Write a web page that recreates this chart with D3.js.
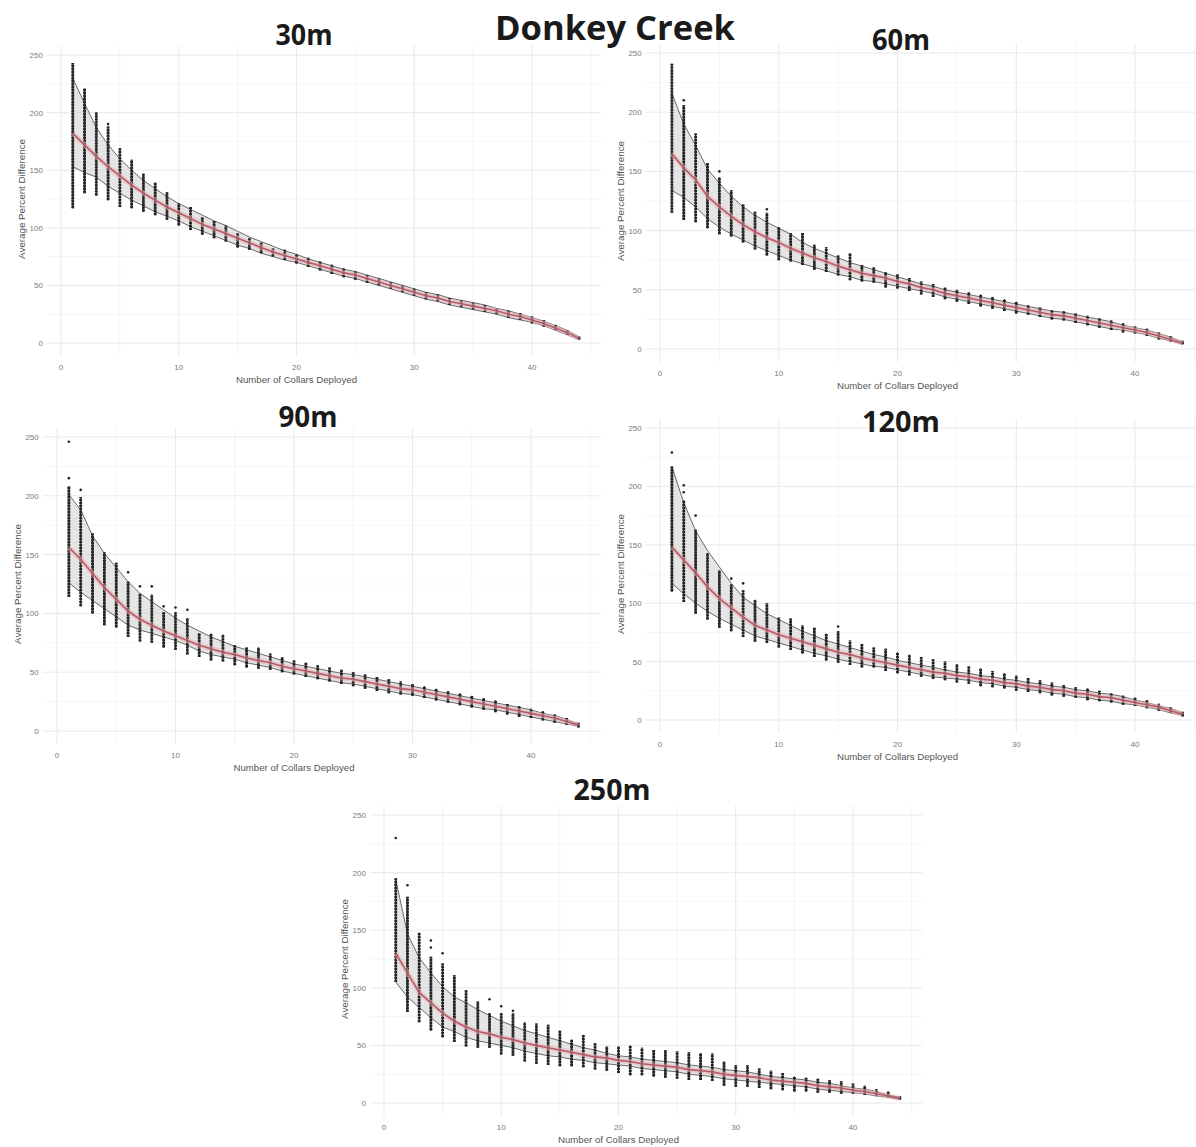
<!DOCTYPE html>
<html>
<head>
<meta charset="utf-8">
<title>Donkey Creek</title>
<script src="https://cdn.jsdelivr.net/npm/d3@7"></script>
<style>
  html, body { margin: 0; padding: 0; background: #fff; }
  svg { display: block; }
  .tick-label { font-family: "Liberation Sans", Arial, sans-serif; font-size: 8px; fill: #7a7a7a; }
  .axis-title { font-family: "Liberation Sans", Arial, sans-serif; font-size: 8.5px; fill: #555; }
  .panel-title { font-family: "Open Sans", "Noto Sans", sans-serif; font-weight: 700; fill: #1a1a1a; }
</style>
</head>
<body>
<svg id="chart" width="1196" height="1147"></svg>
<script>
// Number of collars deployed (x categories)
const collars = [1,2,3,4,5,6,7,8,9,10,11,12,13,14,15,16,17,18,19,20,21,22,
                 23,24,25,26,27,28,29,30,31,32,33,34,35,36,37,38,39,40,41,42,43,44];
const xTicks = [0, 10, 20, 30, 40];
const yTicks = [0, 50, 100, 150, 200, 250];

// 30 m
const mean30   = [182,172,162,153,145,137,130,124,118,113,108,103,99,95,91,87,83,79,76,73,70,67,64,61,59,56,53,50,47,44,41,39,36,34,32,30,28,25,23,20,17,13,9,4];
const barHi30  = [243,221,200,188,169,159,147,139,131,121,118,109,106,102,95,91,87,82,81,77,74,71,68,65,62,59,56,53,50,47,44,42,39,37,35,33,30,28,26,23,20,16,11,6];
const barLo30  = [117,130,128,124,118,117,114,111,107,102,98,94,91,88,83,81,78,75,72,69,66,63,60,57,55,52,50,47,44,41,38,36,33,31,29,27,25,22,20,17,14,11,7,3];
const ribHi30  = [230,208,187,172,160,150,141,134,127,121,116,111,106,102,97,92,88,84,80,77,73,70,67,64,62,59,56,53,50,47,44,42,39,37,35,33,30,28,25,22,19,15,11,5];
const ribLo30  = [153,148,144,136,130,124,119,114,110,106,101,97,93,89,85,82,78,75,72,70,67,64,61,58,56,53,50,47,44,41,38,36,33,31,29,27,25,22,20,18,15,11,7,3];
const out30    = [[4,190]];

// 60 m
const mean60   = [165,153,143,129,120,112,105,99,94,90,85,81,77,74,70,67,64,62,60,57,55,52,50,47,45,43,41,39,37,35,33,31,29,28,26,24,22,20,18,16,14,11,8,5];
const barHi60  = [241,206,182,157,145,134,122,116,115,103,98,98,88,86,79,81,71,69,65,63,60,57,55,52,50,48,46,44,42,40,37,35,33,32,30,28,26,24,22,19,17,14,11,7];
const barLo60  = [115,109,107,102,97,95,90,84,79,75,74,71,67,65,62,58,57,56,52,51,49,46,44,42,40,38,36,34,32,30,29,27,25,24,22,20,18,16,14,13,11,8,6,4];
const ribHi60  = [216,190,172,152,140,129,120,113,107,102,97,90,85,81,77,73,70,67,64,61,58,55,53,50,48,46,44,42,40,38,36,34,32,31,29,27,25,23,20,18,16,13,10,6];
const ribLo60  = [134,128,120,110,103,97,92,87,83,79,75,72,69,66,63,61,58,57,55,53,51,49,47,44,42,40,38,36,34,32,30,28,26,25,23,21,19,17,16,14,12,9,7,4];
const out60    = [[2,210],[5,150],[9,118]];

// 90 m
const mean90   = [156,146,134,122,112,102,95,90,85,81,77,73,70,67,65,62,60,58,55,53,51,49,47,45,44,42,40,38,36,35,33,31,29,27,25,23,21,19,17,15,13,11,8,5];
const barHi90  = [208,199,168,152,143,127,117,116,101,101,96,83,83,82,73,71,71,66,63,60,58,56,54,52,50,48,46,44,42,40,38,36,34,32,30,28,26,23,21,19,17,14,11,7];
const barLo90  = [114,106,100,90,88,80,76,75,71,69,65,63,60,59,56,54,53,52,50,48,46,44,42,40,38,36,34,32,31,30,28,26,24,22,20,18,16,14,12,11,9,7,5,3];
const ribHi90  = [201,188,166,151,139,127,117,110,103,96,90,85,80,76,72,69,66,63,60,57,55,53,51,49,48,46,44,42,40,38,36,34,32,30,28,26,24,22,20,18,15,13,10,6];
const ribLo90  = [126,118,111,104,97,90,86,83,80,77,73,68,65,63,61,58,56,54,51,49,47,45,43,41,40,38,36,34,32,31,29,27,25,23,21,19,18,16,14,12,10,8,6,4];
const out90    = [[1,246],[1,215],[2,205],[6,135],[7,123],[8,123],[9,106],[10,105],[11,103]];

// 120 m
const mean120  = [148,137,126,114,104,96,88,81,77,73,70,67,64,61,58,56,53,51,49,47,45,43,41,40,38,37,35,34,32,31,29,28,26,25,23,22,20,19,17,15,13,11,8,5];
const barHi120 = [217,188,163,143,128,116,111,103,100,88,87,81,79,74,76,68,65,62,61,58,56,54,52,50,48,46,44,42,40,38,36,34,32,30,28,27,25,23,21,19,17,14,11,7];
const barLo120 = [110,101,91,86,79,76,71,67,66,62,60,57,54,51,49,47,45,45,42,40,38,37,35,34,32,31,29,28,27,25,24,23,21,20,19,17,16,15,13,12,10,8,6,3];
const ribHi120 = [217,186,162,145,131,117,105,98,91,86,81,76,72,68,65,62,59,56,54,51,49,47,45,43,41,40,38,37,35,34,32,31,29,28,26,25,23,22,20,17,15,12,10,6];
const ribLo120 = [117,108,100,93,87,82,77,72,69,66,63,60,57,55,52,50,48,46,45,43,41,39,37,36,35,34,32,31,29,28,26,25,23,22,20,19,17,16,14,13,11,9,6,4];
const out120   = [[1,229],[2,201],[2,195],[3,175],[6,121],[7,117],[15,80]];

// 250 m
const mean250  = [130,113,96,87,78,71,66,62,60,57,55,52,50,48,46,44,42,40,39,37,36,34,33,32,31,29,28,27,25,24,23,22,20,19,18,17,15,14,13,11,10,8,6,4];
const barHi250 = [195,179,148,127,121,111,98,88,78,78,78,70,69,68,63,55,59,52,49,49,50,48,46,46,45,44,43,43,36,33,33,30,28,26,23,22,21,20,19,17,15,12,10,6];
const barLo250 = [105,79,70,63,57,53,49,48,48,42,41,36,34,33,32,32,31,29,28,26,24,24,23,22,21,20,20,19,15,14,14,13,12,11,10,10,9,9,8,8,7,6,5,3];
const ribHi250 = [194,147,126,113,101,92,87,81,76,71,67,63,60,57,54,51,48,46,43,41,40,38,37,36,35,33,32,31,29,28,27,25,23,22,21,20,18,17,15,13,12,10,7,5];
const ribLo250 = [105,92,83,74,66,62,57,54,52,50,48,45,43,41,40,38,37,35,34,33,32,30,29,28,27,25,24,23,21,20,19,18,17,16,15,14,12,11,10,9,8,6,5,3];
const out250   = [[1,230],[2,189],[4,141],[4,135],[5,130],[9,90],[10,84],[11,80]];

const panels = [
  { name: "30m",  mean: mean30,  hi: barHi30,  lo: barLo30,  rh: ribHi30,  rl: ribLo30,  out: out30,
    x0: 61,  x40: 532,  y0: 343,  y250: 55,  title: { x: 304, y: 45, len: 57 } },
  { name: "60m",  mean: mean60,  hi: barHi60,  lo: barLo60,  rh: ribHi60,  rl: ribLo60,  out: out60,
    x0: 660, x40: 1135, y0: 349,  y250: 53,  title: { x: 901, y: 50, len: 58 } },
  { name: "90m",  mean: mean90,  hi: barHi90,  lo: barLo90,  rh: ribHi90,  rl: ribLo90,  out: out90,
    x0: 57,  x40: 531,  y0: 731,  y250: 437, title: { x: 308, y: 427, len: 59 } },
  { name: "120m", mean: mean120, hi: barHi120, lo: barLo120, rh: ribHi120, rl: ribLo120, out: out120,
    x0: 660, x40: 1135, y0: 720,  y250: 428, title: { x: 901, y: 432, len: 78 } },
  { name: "250m", mean: mean250, hi: barHi250, lo: barLo250, rh: ribHi250, rl: ribLo250, out: out250,
    x0: 384, x40: 853,  y0: 1103, y250: 815, title: { x: 612, y: 800, len: 77 } }
];

const svg = d3.select("#chart");
svg.append("rect").attr("width", 1196).attr("height", 1147).attr("fill", "#fff");

// Overall title
svg.append("text")
  .attr("class", "panel-title")
  .attr("x", 615).attr("y", 40)
  .attr("text-anchor", "middle")
  .attr("font-size", 34)
  .attr("textLength", 240).attr("lengthAdjust", "spacingAndGlyphs")
  .text("Donkey Creek");

panels.forEach(p => {
  // Linear scales anchored on the 0/40 and 0/250 tick positions
  const x = d3.scaleLinear().domain([0, 40]).range([p.x0, p.x40]);
  const y = d3.scaleLinear().domain([0, 250]).range([p.y0, p.y250]);
  const xMin = -1.2, xMax = 45.9, yMin = -11, yMax = 258;

  const g = svg.append("g");

  // Minor grid
  const grid = g.append("g");
  [5, 15, 25, 35, 45].forEach(v => {
    grid.append("line").attr("x1", x(v)).attr("x2", x(v)).attr("y1", y(yMin)).attr("y2", y(yMax))
      .attr("stroke", "#f3f3f3").attr("stroke-width", 0.8);
  });
  [25, 75, 125, 175, 225].forEach(v => {
    grid.append("line").attr("x1", x(xMin)).attr("x2", x(xMax)).attr("y1", y(v)).attr("y2", y(v))
      .attr("stroke", "#f3f3f3").attr("stroke-width", 0.8);
  });
  // Major grid
  xTicks.forEach(v => {
    grid.append("line").attr("x1", x(v)).attr("x2", x(v)).attr("y1", y(yMin)).attr("y2", y(yMax))
      .attr("stroke", "#e9e9e9").attr("stroke-width", 1);
  });
  yTicks.forEach(v => {
    grid.append("line").attr("x1", x(xMin)).attr("x2", x(xMax)).attr("y1", y(v)).attr("y2", y(v))
      .attr("stroke", "#e9e9e9").attr("stroke-width", 1);
  });

  // Tick labels
  g.selectAll(".ylab").data(yTicks).join("text")
    .attr("class", "tick-label")
    .attr("x", x(xMin) - 4).attr("y", d => y(d) + 3)
    .attr("text-anchor", "end")
    .text(d => d);
  g.selectAll(".xlab").data(xTicks).join("text")
    .attr("class", "tick-label")
    .attr("x", d => x(d)).attr("y", y(yMin) + 14)
    .attr("text-anchor", "middle")
    .text(d => d);

  // Axis titles
  g.append("text").attr("class", "axis-title")
    .attr("x", x(20)).attr("y", y(yMin) + 27)
    .attr("text-anchor", "middle")
    .attr("textLength", 121).attr("lengthAdjust", "spacingAndGlyphs")
    .text("Number of Collars Deployed");
  const yMid = (y(0) + y(250)) / 2;
  g.append("text").attr("class", "axis-title")
    .attr("transform", `translate(${x(xMin) - 22},${yMid}) rotate(-90)`)
    .attr("text-anchor", "middle")
    .attr("textLength", 120).attr("lengthAdjust", "spacingAndGlyphs")
    .text("Average Percent Difference");

  // Panel title
  g.append("text").attr("class", "panel-title")
    .attr("x", p.title.x).attr("y", p.title.y)
    .attr("text-anchor", "middle")
    .attr("font-size", 28)
    .attr("textLength", p.title.len).attr("lengthAdjust", "spacingAndGlyphs")
    .text(p.name);

  const rows = collars.map((c, i) => ({
    c, mean: p.mean[i], hi: p.hi[i], lo: p.lo[i], rh: p.rh[i], rl: p.rl[i]
  }));

  // Spread ribbon
  const area = d3.area().x(d => x(d.c)).y0(d => y(d.rl)).y1(d => y(d.rh));
  g.append("path").datum(rows).attr("d", area)
    .attr("fill", "#cfcfcf").attr("fill-opacity", 0.55);
  const edge = key => d3.line().x(d => x(d.c)).y(d => y(d[key]));
  ["rh", "rl"].forEach(k => {
    g.append("path").datum(rows).attr("d", edge(k))
      .attr("fill", "none").attr("stroke", "#6a6a6a").attr("stroke-width", 1);
  });

  // Per-deployment distributions
  g.selectAll(".bar").data(rows).join("line")
    .attr("x1", d => x(d.c)).attr("x2", d => x(d.c))
    .attr("y1", d => y(d.lo)).attr("y2", d => y(d.hi))
    .attr("stroke", "#1a1a1a").attr("stroke-width", 2.8)
    .attr("stroke-dasharray", "2.4 0.6");
  g.selectAll(".whisk").data(rows).join("line")
    .attr("x1", d => x(d.c)).attr("x2", d => x(d.c))
    .attr("y1", d => y(d.lo)).attr("y2", d => y(d.hi))
    .attr("stroke", "#2a2a2a").attr("stroke-width", 1.2);

  // Outlying values
  g.selectAll(".out").data(p.out).join("circle")
    .attr("cx", d => x(d[0])).attr("cy", d => y(d[1]))
    .attr("r", 1.3).attr("fill", "#222");

  // Mean curve with soft halo
  const meanLine = d3.line().x(d => x(d.c)).y(d => y(d.mean));
  g.append("path").datum(rows).attr("d", meanLine)
    .attr("fill", "none").attr("stroke", "#e6b3b8").attr("stroke-width", 5).attr("stroke-opacity", 0.55);
  g.append("path").datum(rows).attr("d", meanLine)
    .attr("fill", "none").attr("stroke", "#b5505c").attr("stroke-width", 1.6).attr("stroke-opacity", 0.9);
});
</script>
</body>
</html>
